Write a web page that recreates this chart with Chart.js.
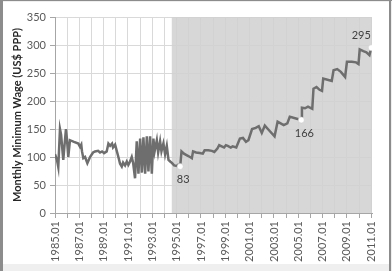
<!DOCTYPE html>
<html>
<head>
<meta charset="utf-8">
<script src="https://cdn.jsdelivr.net/npm/chart.js@4"></script>
<style>
  html, body { margin: 0; padding: 0; background: #fff; }
  #wrap { width: 392px; height: 271px; position: relative; }
</style>
</head>
<body>
<div id="wrap"><canvas id="wageChart" width="392" height="271"></canvas></div>
<script>
// Monthly minimum wage (US$ PPP)
const years = [
  1985.00, 1985.16, 1985.27, 1985.41, 1985.50, 1985.68, 1985.90, 1985.99,
  1986.09, 1986.23, 1986.56, 1986.92, 1987.06, 1987.16, 1987.22, 1987.33,
  1987.47, 1987.66, 1987.88, 1988.13, 1988.29, 1988.54, 1988.70, 1988.87,
  1989.03, 1989.25, 1989.39, 1989.53, 1989.69, 1989.77, 1989.94, 1990.21,
  1990.35, 1990.49, 1990.60, 1990.76, 1990.90, 1991.03, 1991.17, 1991.31,
  1991.42, 1991.58, 1991.72, 1991.86, 1992.00, 1992.14, 1992.27, 1992.41,
  1992.55, 1992.68, 1992.82, 1992.96, 1993.09, 1993.19, 1993.37, 1993.48,
  1993.64, 1993.75, 1993.91, 1994.05, 1994.19, 1994.33, 1994.47, 1994.63,
  1994.79, 1995.02, 1995.12, 1995.29,
  1995.40, 1995.60, 1995.85, 1996.10, 1996.25, 1996.35, 1996.60, 1996.90,
  1997.15, 1997.30, 1997.60, 1997.90, 1998.10, 1998.35, 1998.50, 1998.70,
  1998.90, 1999.05, 1999.20, 1999.45, 1999.60, 1999.90, 2000.20, 2000.45,
  2000.70, 2000.90, 2001.20, 2001.50, 2001.75, 2002.00, 2002.25, 2002.50,
  2003.05, 2003.30, 2003.55, 2003.80, 2004.10, 2004.30, 2004.60, 2004.95,
  2005.25, 2005.30, 2005.55, 2005.80, 2006.15, 2006.25, 2006.50, 2006.75,
  2006.95, 2007.05, 2007.40, 2007.75, 2007.90, 2008.20, 2008.50, 2008.85,
  2009.00, 2009.40, 2009.75, 2009.95, 2010.05, 2010.35, 2010.60, 2010.85,
  2011.00
];
const wage = [
  105, 95, 82, 150, 140, 95, 150, 130,
  100, 130, 127, 124, 118, 122, 110, 98,
  100, 89, 100, 108, 110, 111, 108, 110,
  107, 110, 124, 120, 124, 117, 122, 100,
  88, 83, 90, 85, 92, 86, 92, 100,
  90, 62, 128, 70, 133, 72, 135, 70,
  137, 74, 137, 70, 133, 110, 130, 108,
  128, 110, 124, 105, 120, 95, 92, 89,
  85, 84, 86, 83,
  110, 106, 103, 100, 98, 110, 108, 107,
  106, 112, 112, 111, 109, 115, 121, 119,
  117, 121, 120, 117, 119, 117, 133, 134,
  127, 130, 150, 152, 155, 143, 156, 150,
  137, 163, 160, 157, 160, 172, 170, 168,
  166, 188, 187, 190, 186, 222, 225, 220,
  218, 240, 238, 236, 255, 257, 252, 243,
  270, 270, 269, 266, 292, 289, 287, 282,
  295
];

// annotated points and the shaded period
const labelYears = [1995.29, 2005.25, 2011.00];
const labelTexts = ['83', '166', '295'];
const shadeStart = 1994.6;
const shadeEnd = 2011.06;

const xMin = 1985, xMax = 2011.06;
const yMax = 350, yStep = 50;

const points = years.map((yr, i) => ({ x: yr, y: wage[i] }));
const markIdx = labelYears.map(yr => years.indexOf(yr));

const FONT = 'Lato, "Open Sans", sans-serif';

const framePlugin = {
  id: 'frame',
  beforeDraw(chart) {
    const c = chart.ctx;
    c.save();
    c.fillStyle = '#efefef';
    c.fillRect(0, 0, chart.width, chart.height);
    c.fillStyle = '#ffffff';
    c.fillRect(3, 2, 386, 262);
    c.fillStyle = '#8c8c8c';
    c.fillRect(0, 0, 3, chart.height);
    c.fillRect(0, 0, chart.width, 1);
    c.fillRect(389, 0, 2, chart.height);
    c.restore();
  }
};

const shadePlugin = {
  id: 'shade',
  beforeDatasetsDraw(chart) {
    const c = chart.ctx, xs = chart.scales.x, a = chart.chartArea;
    const x0 = xs.getPixelForValue(shadeStart);
    const x1 = xs.getPixelForValue(shadeEnd);
    c.save();
    c.fillStyle = 'rgba(208,208,208,0.85)';
    c.fillRect(x0, a.top, x1 - x0, a.bottom - a.top);
    c.restore();
  }
};

const labelPlugin = {
  id: 'pointLabels',
  afterDatasetsDraw(chart) {
    const c = chart.ctx, meta = chart.getDatasetMeta(0);
    const offs = [[3, 13], [3, 13], [-10, -12]];
    c.save();
    c.font = '11px ' + FONT;
    c.fillStyle = '#404040';
    c.textAlign = 'center';
    c.textBaseline = 'middle';
    markIdx.forEach((idx, k) => {
      const p = meta.data[idx];
      c.fillText(labelTexts[k], p.x + offs[k][0], p.y + offs[k][1]);
    });
    c.restore();
  }
};

new Chart(document.getElementById('wageChart').getContext('2d'), {
  type: 'line',
  data: {
    datasets: [{
      data: points,
      borderColor: '#6e6e6e',
      borderWidth: 2.5,
      tension: 0,
      pointRadius: ctx => markIdx.includes(ctx.dataIndex) ? 3 : 0,
      pointBackgroundColor: '#ffffff',
      pointBorderColor: '#c8c8c8',
      pointBorderWidth: 0.5
    }]
  },
  options: {
    responsive: false,
    animation: false,
    layout: { padding: { left: 4, top: 17, right: 20, bottom: 0 } },
    plugins: { legend: { display: false }, tooltip: { enabled: false } },
    scales: {
      x: {
        type: 'linear',
        min: xMin,
        max: xMax,
        afterFit: s => { s.height = 58; },
        grid: { color: '#d9d9d9', tickLength: 5, tickColor: '#a6a6a6' },
        border: { color: '#a6a6a6' },
        ticks: {
          stepSize: 1,
          includeBounds: false,
          autoSkip: false,
          maxRotation: 90,
          minRotation: 90,
          padding: 3,
          color: '#595959',
          font: { family: FONT, size: 11 },
          callback: v => ((v - 1985) % 2 === 0 ? v + '.01' : '')
        }
      },
      y: {
        min: 0,
        max: yMax,
        afterFit: s => { s.width = 51; },
        grid: { color: '#d9d9d9', tickLength: 5, tickColor: '#a6a6a6' },
        border: { color: '#a6a6a6' },
        ticks: {
          stepSize: yStep,
          padding: 4,
          color: '#595959',
          font: { family: FONT, size: 11 }
        },
        title: {
          display: true,
          text: 'Monthly Minimum Wage (US$ PPP)',
          color: '#262626',
          font: { family: FONT, size: 11, weight: 'bold' },
          padding: { top: 7, bottom: 0 }
        }
      }
    }
  },
  plugins: [framePlugin, shadePlugin, labelPlugin]
});
</script>
</body>
</html>
